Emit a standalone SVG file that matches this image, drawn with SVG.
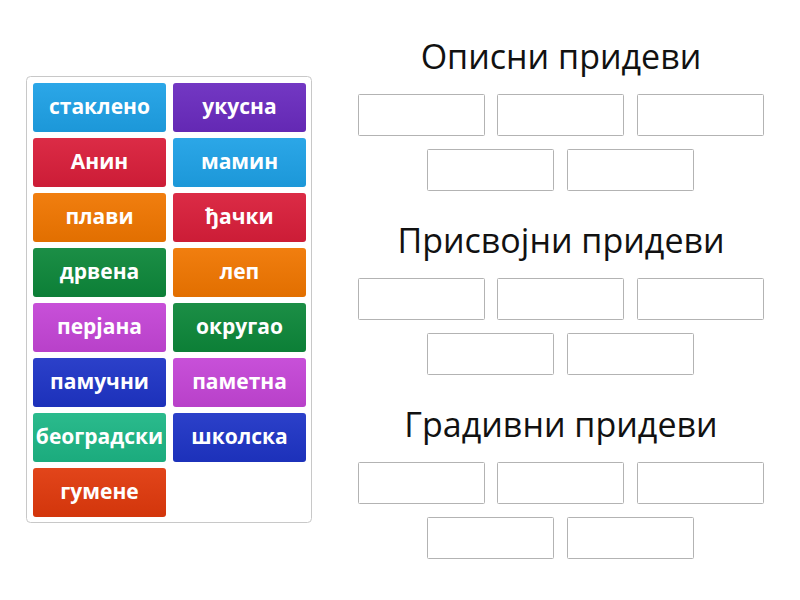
<svg xmlns="http://www.w3.org/2000/svg" width="800" height="600" viewBox="0 0 800 600">
<defs>
<linearGradient id="shade" x1="0" y1="0" x2="0" y2="1">
<stop offset="0" stop-color="#fff" stop-opacity="0.06"/>
<stop offset="1" stop-color="#000" stop-opacity="0.06"/>
</linearGradient>
</defs>
<style>
.tile rect.b{stroke:none}
.tile rect.s{fill:url(#shade)}
.tile text{font-family:"Open Sans","Noto Sans",sans-serif;font-weight:bold;font-size:21px;fill:#fff;text-anchor:middle}
.slot{fill:#fff;stroke:#b3b3b3;stroke-width:1}
.title{font-family:"Open Sans","Noto Sans",sans-serif;font-size:34px;fill:#111;text-anchor:middle}
</style>
<rect width="800" height="600" fill="#fff"/>
<g id="panel">
<rect x="26.5" y="76.5" width="285" height="446" rx="4" fill="#fff" stroke="#c8c8c8"/>
</g>
<g id="tiles">
<g class="tile" id="t1"><rect class="b" x="33" y="83" width="133" height="49" rx="3" fill="#1ea1e6"/><rect class="s" x="33" y="83" width="133" height="49" rx="3"/><text x="99.5" y="114">стаклено</text></g>
<g class="tile" id="t2"><rect class="b" x="173" y="83" width="133" height="49" rx="3" fill="#6a2bbf"/><rect class="s" x="173" y="83" width="133" height="49" rx="3"/><text x="239.5" y="114">укусна</text></g>
<g class="tile" id="t3"><rect class="b" x="33" y="138" width="133" height="49" rx="3" fill="#d91e3a"/><rect class="s" x="33" y="138" width="133" height="49" rx="3"/><text x="99.5" y="169">Анин</text></g>
<g class="tile" id="t4"><rect class="b" x="173" y="138" width="133" height="49" rx="3" fill="#1ea1e6"/><rect class="s" x="173" y="138" width="133" height="49" rx="3"/><text x="239.5" y="169">мамин</text></g>
<g class="tile" id="t5"><rect class="b" x="33" y="193" width="133" height="49" rx="3" fill="#f07600"/><rect class="s" x="33" y="193" width="133" height="49" rx="3"/><text x="99.5" y="224">плави</text></g>
<g class="tile" id="t6"><rect class="b" x="173" y="193" width="133" height="49" rx="3" fill="#d91e3a"/><rect class="s" x="173" y="193" width="133" height="49" rx="3"/><text x="239.5" y="224">ђачки</text></g>
<g class="tile" id="t7"><rect class="b" x="33" y="248" width="133" height="49" rx="3" fill="#0d873a"/><rect class="s" x="33" y="248" width="133" height="49" rx="3"/><text x="99.5" y="279">дрвена</text></g>
<g class="tile" id="t8"><rect class="b" x="173" y="248" width="133" height="49" rx="3" fill="#f07600"/><rect class="s" x="173" y="248" width="133" height="49" rx="3"/><text x="239.5" y="279">леп</text></g>
<g class="tile" id="t9"><rect class="b" x="33" y="303" width="133" height="49" rx="3" fill="#c445d6"/><rect class="s" x="33" y="303" width="133" height="49" rx="3"/><text x="99.5" y="334">перјана</text></g>
<g class="tile" id="t10"><rect class="b" x="173" y="303" width="133" height="49" rx="3" fill="#0d873a"/><rect class="s" x="173" y="303" width="133" height="49" rx="3"/><text x="239.5" y="334">округао</text></g>
<g class="tile" id="t11"><rect class="b" x="33" y="358" width="133" height="49" rx="3" fill="#1e34c6"/><rect class="s" x="33" y="358" width="133" height="49" rx="3"/><text x="99.5" y="389">памучни</text></g>
<g class="tile" id="t12"><rect class="b" x="173" y="358" width="133" height="49" rx="3" fill="#c445d6"/><rect class="s" x="173" y="358" width="133" height="49" rx="3"/><text x="239.5" y="389">паметна</text></g>
<g class="tile" id="t13"><rect class="b" x="33" y="413" width="133" height="49" rx="3" fill="#1db685"/><rect class="s" x="33" y="413" width="133" height="49" rx="3"/><text x="99.5" y="444">београдски</text></g>
<g class="tile" id="t14"><rect class="b" x="173" y="413" width="133" height="49" rx="3" fill="#1e34c6"/><rect class="s" x="173" y="413" width="133" height="49" rx="3"/><text x="239.5" y="444">школска</text></g>
<g class="tile" id="t15"><rect class="b" x="33" y="468" width="133" height="49" rx="3" fill="#e0390c"/><rect class="s" x="33" y="468" width="133" height="49" rx="3"/><text x="99.5" y="499">гумене</text></g>
</g>
<g id="group-opisni">
<text class="title" x="561" y="69">Описни придеви</text>
<rect class="slot" x="358.5" y="94.5" width="126" height="41" rx="1"/>
<rect class="slot" x="497.5" y="94.5" width="126" height="41" rx="1"/>
<rect class="slot" x="637.5" y="94.5" width="126" height="41" rx="1"/>
<rect class="slot" x="427.5" y="149.5" width="126" height="41" rx="1"/>
<rect class="slot" x="567.5" y="149.5" width="126" height="41" rx="1"/>
</g>
<g id="group-prisvojni">
<text class="title" x="561" y="253">Присвојни придеви</text>
<rect class="slot" x="358.5" y="278.5" width="126" height="41" rx="1"/>
<rect class="slot" x="497.5" y="278.5" width="126" height="41" rx="1"/>
<rect class="slot" x="637.5" y="278.5" width="126" height="41" rx="1"/>
<rect class="slot" x="427.5" y="333.5" width="126" height="41" rx="1"/>
<rect class="slot" x="567.5" y="333.5" width="126" height="41" rx="1"/>
</g>
<g id="group-gradivni">
<text class="title" x="561" y="437">Градивни придеви</text>
<rect class="slot" x="358.5" y="462.5" width="126" height="41" rx="1"/>
<rect class="slot" x="497.5" y="462.5" width="126" height="41" rx="1"/>
<rect class="slot" x="637.5" y="462.5" width="126" height="41" rx="1"/>
<rect class="slot" x="427.5" y="517.5" width="126" height="41" rx="1"/>
<rect class="slot" x="567.5" y="517.5" width="126" height="41" rx="1"/>
</g>
<g id="connectors"/>
</svg>
